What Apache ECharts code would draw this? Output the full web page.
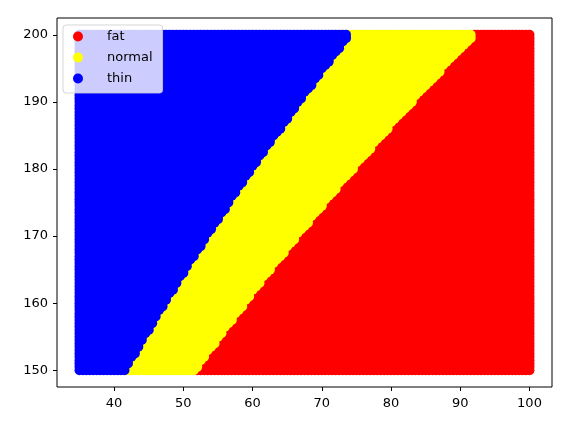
<!DOCTYPE html>
<html>
<head>
<meta charset="utf-8">
<script src="https://cdn.jsdelivr.net/npm/echarts@6/dist/echarts.min.js"></script>
<style>html,body{margin:0;padding:0;background:#fff}#c{width:572px;height:421px}</style>
</head>
<body>
<div id="c"></div>
<script>
const weightGrid = { start: 35, end: 100, step: 0.5 };
const heightGrid = { start: 150, end: 200, step: 0.5 };
// Class names and BMI cut-offs read from the region boundaries
const categories = ['fat', 'normal', 'thin'];
const categoryColors = ['#ff0000', '#ffff00', '#0000ff'];
const thinBelow = 18.5;
const normalBelow = 23;
// Tick labels
const xTicks = [40, 50, 60, 70, 80, 90, 100];
const yTicks = [150, 160, 170, 180, 190, 200];

const fatPts = [], normalPts = [], thinPts = [];
for (let h = heightGrid.start; h <= heightGrid.end + 1e-9; h += heightGrid.step) {
  for (let w = weightGrid.start; w <= weightGrid.end + 1e-9; w += weightGrid.step) {
    const bmi = w / ((h / 100) * (h / 100));
    if (bmi < thinBelow) thinPts.push([w, h]);
    else if (bmi < normalBelow) normalPts.push([w, h]);
    else fatPts.push([w, h]);
  }
}
const seriesData = { fat: fatPts, normal: normalPts, thin: thinPts };

const chart = echarts.init(document.getElementById('c'), null, { renderer: 'canvas' });
const font = 'DejaVu Sans';
chart.setOption({
  animation: false,
  backgroundColor: '#fff',
  grid: { left: 57, right: 20, top: 18, bottom: 34, show: true, borderColor: '#000', borderWidth: 1, backgroundColor: 'transparent' },
  xAxis: {
    type: 'value', min: 31.75, max: 103.25,
    splitLine: { show: false },
    axisLine: { show: false },
    axisTick: { show: true, length: 4, lineStyle: { color: '#000' }, customValues: xTicks },
    axisLabel: { customValues: xTicks, margin: 10, color: '#000', fontFamily: font, fontSize: 13 }
  },
  yAxis: {
    type: 'value', min: 147.5, max: 202.5,
    splitLine: { show: false },
    axisLine: { show: false },
    axisTick: { show: true, length: 4, lineStyle: { color: '#000' }, customValues: yTicks },
    axisLabel: { customValues: yTicks, margin: 9, color: '#000', fontFamily: font, fontSize: 13 }
  },
  legend: {
    orient: 'vertical', left: 63, top: 25,
    data: categories.map(c => ({ name: c, icon: 'circle' })),
    itemWidth: 18, itemHeight: 10, itemGap: 6,
    padding: [4, 10, 7, 10],
    backgroundColor: 'rgba(255,255,255,0.8)',
    borderColor: 'rgba(204,204,204,0.8)', borderWidth: 1, borderRadius: 3,
    textStyle: { fontFamily: font, fontSize: 13, color: '#000', lineHeight: 15, padding: [0, 0, 0, 15] }
  },
  series: categories.map((c, i) => ({
    name: c, type: 'scatter', data: seriesData[c],
    symbol: 'circle', symbolSize: 10,
    itemStyle: { color: categoryColors[i], opacity: 1 },
    progressive: 0, large: false,
    emphasis: { disabled: true }
  }))
});
</script>
</body>
</html>
